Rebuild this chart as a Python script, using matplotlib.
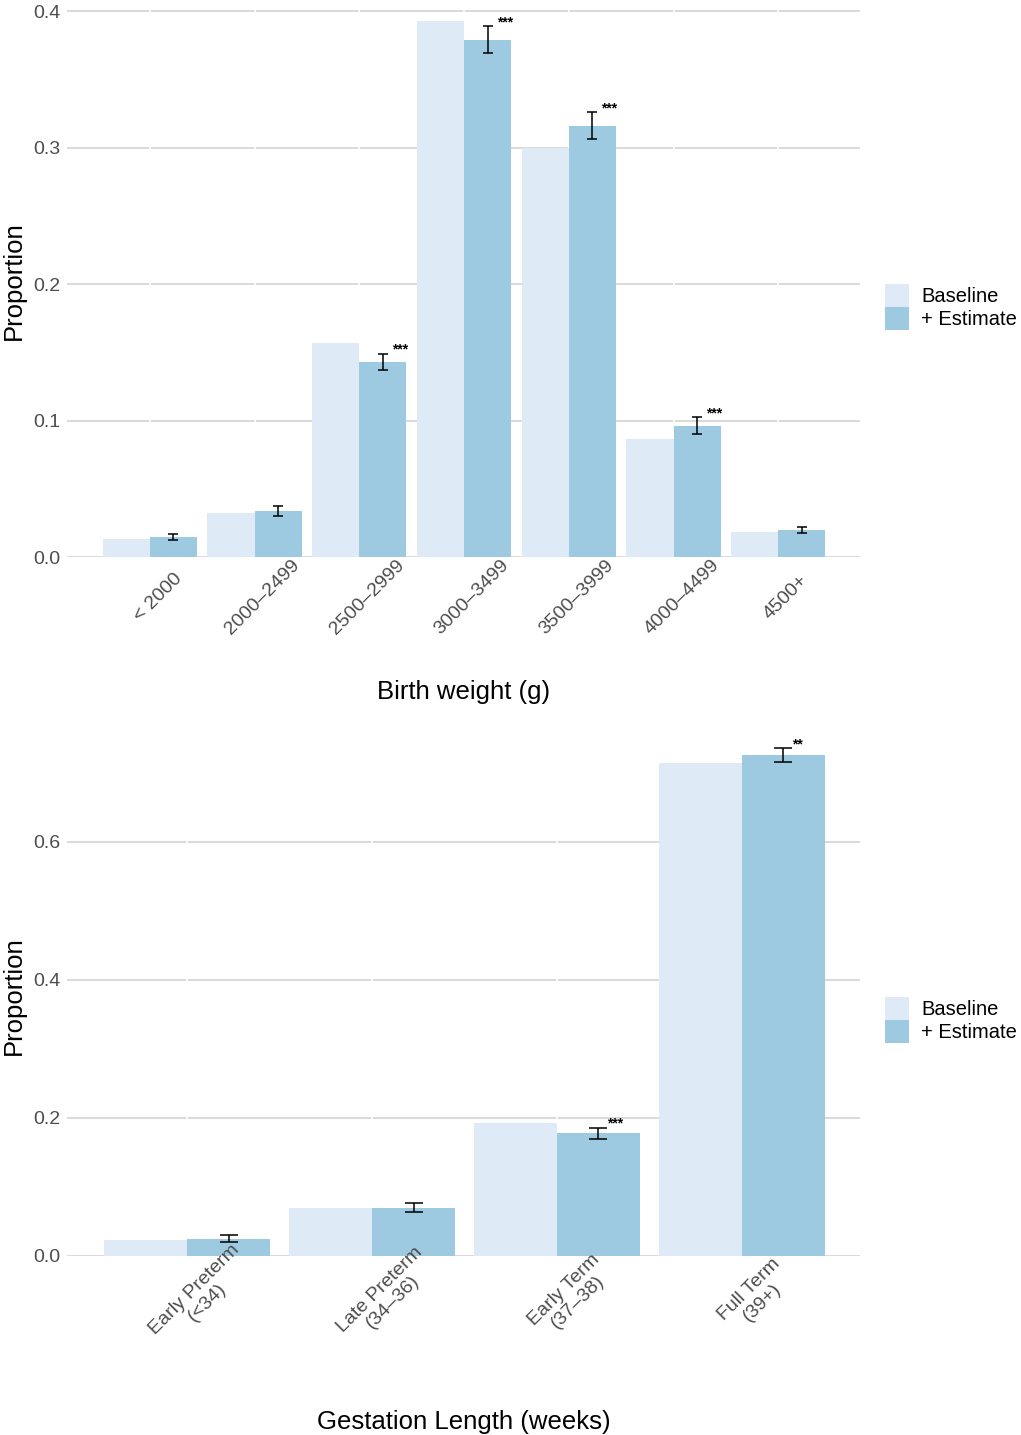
import matplotlib
matplotlib.use("Agg")
import matplotlib.pyplot as plt
import matplotlib.transforms as mtransforms
import numpy as np

plt.rcParams['font.family'] = ['Liberation Sans', 'DejaVu Sans']

# birth weight panel
bw_categories = ['< 2000', '2000–2499', '2500–2999', '3000–3499', '3500–3999', '4000–4499', '4500+']
bw_baseline = [0.013, 0.032, 0.157, 0.393, 0.300, 0.0865, 0.018]
bw_estimate = [0.0147, 0.0337, 0.143, 0.379, 0.316, 0.096, 0.0198]
bw_err = [0.0019, 0.004, 0.006, 0.0099, 0.0099, 0.0062, 0.0021]
bw_stars = ['', '', '***', '***', '***', '***', '']
bw_yticks = [0.0, 0.1, 0.2, 0.3, 0.4]

# gestation panel
gl_categories = ['Early Preterm\n(<34)', 'Late Preterm\n(34–36)', 'Early Term\n(37–38)', 'Full Term\n(39+)']
gl_baseline = [0.023, 0.0695, 0.193, 0.7145]
gl_estimate = [0.0252, 0.0696, 0.178, 0.726]
gl_err = [0.005, 0.0065, 0.008, 0.0102]
gl_stars = ['', '', '***', '**']
gl_yticks = [0.0, 0.2, 0.4, 0.6]

BASE_COL = '#deebf7'
EST_COL = '#9ecae1'
GRID_COL = '#d0d0d0'
TICK_COL = '#4d4d4d'


def draw_panel(ax, cats, base, est, err, stars, yticks, ylim, xlim, xlabel,
               capsize, label_dy, label_dx, xlab_y, lsp):
    x = np.arange(len(cats))
    w = 0.45
    # grid drawn by hand so tick labels can sit above the bars
    for t in yticks:
        ax.axhline(t, color=GRID_COL, linewidth=1.1, zorder=0.5)
    ax.vlines(x, ylim[0], ylim[1], color='white', linewidth=1.2, zorder=0.6)

    ax.bar(x - w / 2, base, width=w, color=BASE_COL, label='Baseline', zorder=2)
    ax.bar(x + w / 2, est, width=w, color=EST_COL, label='+ Estimate', zorder=2)
    ax.errorbar(x + w / 2, est, yerr=err, fmt='none', ecolor='black',
                elinewidth=1.1, capsize=capsize, capthick=1.1, zorder=3)
    for xi, yi, e, s in zip(x + w / 2, est, err, stars):
        if s:
            ax.annotate(s, xy=(xi, yi + e), xytext=(9, 4), textcoords='offset pixels',
                        ha='left', va='center', fontsize=10, fontweight='bold', zorder=4)

    ax.set_xlim(*xlim)
    ax.set_ylim(*ylim)
    ax.set_yticks(yticks)
    ax.set_yticklabels(['%.1f' % t for t in yticks])
    ax.set_axisbelow(False)
    for sp in ax.spines.values():
        sp.set_visible(False)
    ax.tick_params(axis='both', length=0, labelsize=14, labelcolor=TICK_COL)
    ax.tick_params(axis='y', pad=5)
    ax.tick_params(axis='x', pad=label_dy * 72 / 100)

    ax.set_xticks(x)
    ax.set_xticklabels(cats, rotation=45, ha='center', va='center',
                       rotation_mode='anchor', linespacing=lsp)
    shift = mtransforms.ScaledTranslation(label_dx / 100, 0, ax.figure.dpi_scale_trans)
    for lab in ax.get_xticklabels():
        lab.set_transform(lab.get_transform() + shift)

    ax.set_xlabel(xlabel, fontsize=18.5, color='black')
    ax.xaxis.set_label_coords(0.5, xlab_y)
    ax.xaxis.label.set_va('center')
    ax.set_ylabel('Proportion', fontsize=18.5, color='black')
    ax.yaxis.set_label_coords(-0.067, 0.5)
    ax.yaxis.label.set_va('center')


fig = plt.figure(figsize=(10.21, 14.35), dpi=100)

W, H = 1021.0, 1435.0
ax1 = fig.add_axes([67 / W, 1 - 557 / H, 793 / W, 552 / H])
ax2 = fig.add_axes([67 / W, 1 - 1256 / H, 793 / W, 521 / H])

draw_panel(ax1, bw_categories, bw_baseline, bw_estimate, bw_err, bw_stars, bw_yticks,
           (0, 0.4044), (-0.79, 6.78), 'Birth weight (g)', 3.6, 40, 8, -0.244, 1.0)
draw_panel(ax2, gl_categories, gl_baseline, gl_estimate, gl_err, gl_stars, gl_yticks,
           (0, 0.755), (-0.65, 3.64), 'Gestation Length (weeks)', 6.8, 40, 14, -0.319, 1.1)

for ax, yc in [(ax1, 1 - 307 / H), (ax2, 1 - 1020 / H)]:
    ax.legend(loc='center left', bbox_to_anchor=(885 / W, yc),
              bbox_transform=fig.transFigure, frameon=False, fontsize=14.5,
              handlelength=1.2, handleheight=1.35, handletextpad=0.6,
              labelspacing=0.0, borderpad=0, borderaxespad=0)

fig.savefig('out.png', dpi=100, facecolor='white')
